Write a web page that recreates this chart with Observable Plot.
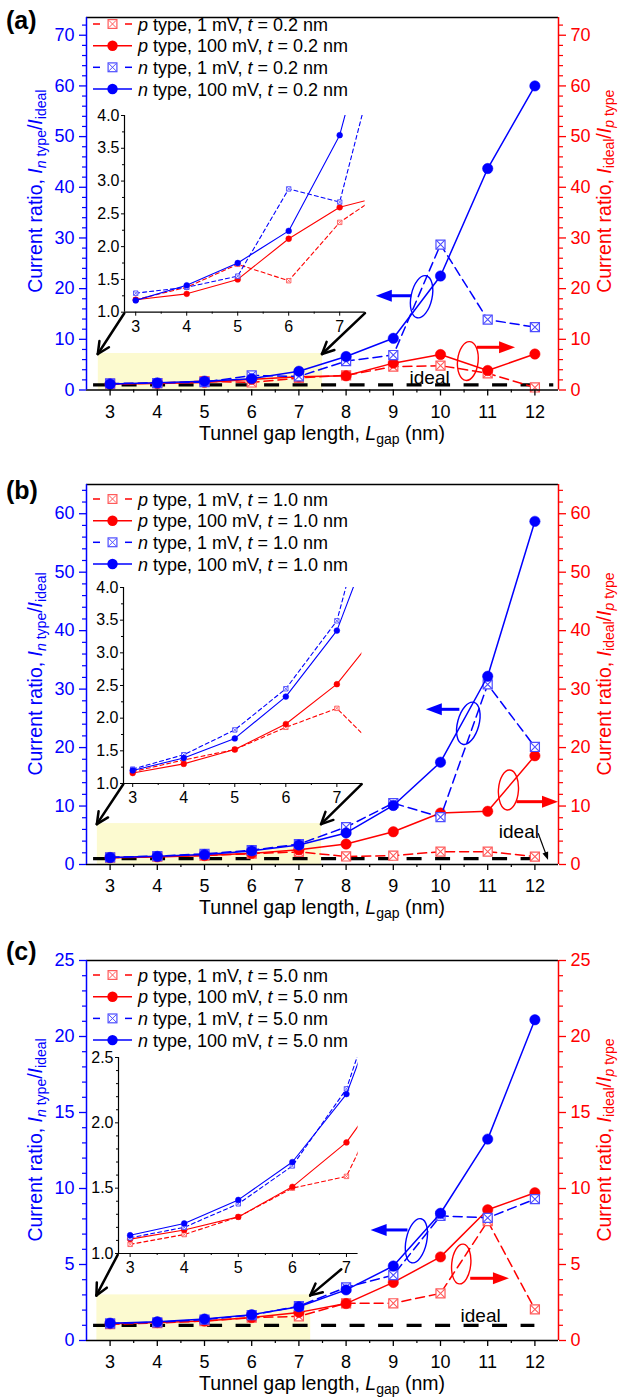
<!DOCTYPE html>
<html><head><meta charset="utf-8">
<script src="https://cdn.jsdelivr.net/npm/d3@7"></script>
<script src="https://cdn.jsdelivr.net/npm/@observablehq/plot@0.6"></script>
<style>
body{margin:0;background:#fff;}
#root{width:618px;}
.panel{position:relative;width:618px;overflow:visible;}
.panel svg{display:block;overflow:visible;}
</style></head><body><div id="root"></div>
<script>
// ---------------- data ----------------
const gapLengths = [3, 4, 5, 6, 7, 8, 9, 10, 11, 12];
const seriesKeys = ["p1", "p100", "n1", "n100"];
const seriesCarrier = ["p", "p", "n", "n"];
const seriesVoltage = ["1 mV", "100 mV", "1 mV", "100 mV"];
const thicknessLabels = ["0.2", "1.0", "5.0"];
const panelLetters = ["(a)", "(b)", "(c)"];

// panel (a): t = 0.2 nm
const a_p1mV   = [1.19, 1.38, 1.73, 1.48, 2.37, 2.9, 4.6, 4.8, 3.3, 0.5];
const a_p100mV = [1.19, 1.28, 1.50, 2.12, 2.60, 2.8, 5.3, 7.0, 3.85, 7.1];
const a_n1mV   = [1.29, 1.38, 1.55, 2.88, 2.68, 5.7, 6.9, 28.7, 13.9, 12.4];
const a_n100mV = [1.18, 1.41, 1.75, 2.24, 3.70, 6.6, 10.2, 22.5, 43.7, 60.0];
// panel (b): t = 1.0 nm
const b_p1mV   = [1.18, 1.36, 1.52, 1.86, 2.15, 1.37, 1.5, 2.2, 2.2, 1.35];
const b_p100mV = [1.16, 1.30, 1.52, 1.91, 2.52, 3.5, 5.6, 8.8, 9.1, 18.6];
const b_n1mV   = [1.22, 1.44, 1.82, 2.45, 3.49, 6.4, 10.5, 8.1, 30.8, 20.1];
const b_n100mV = [1.20, 1.39, 1.69, 2.33, 3.34, 5.4, 10.1, 17.5, 32.2, 58.7];
// panel (c): t = 5.0 nm
const c_p1mV   = [1.07, 1.145, 1.28, 1.50, 1.59, 2.45, 2.45, 3.1, 7.85, 2.05];
const c_p100mV = [1.11, 1.18, 1.28, 1.51, 1.85, 2.43, 3.82, 5.5, 8.6, 9.72];
const c_n1mV   = [1.12, 1.20, 1.38, 1.67, 2.26, 3.5, 4.3, 8.2, 8.07, 9.3];
const c_n100mV = [1.14, 1.23, 1.41, 1.70, 2.22, 3.33, 4.9, 8.37, 13.25, 21.1];

const idealRatio = 1;

// ticks
const xTicks = [3, 4, 5, 6, 7, 8, 9, 10, 11, 12];
const xMinorTicks = [3.5, 4.5, 5.5, 6.5, 7.5, 8.5, 9.5, 10.5, 11.5];
const yTicks_a = [0, 10, 20, 30, 40, 50, 60, 70];
const yTicks_b = [0, 10, 20, 30, 40, 50, 60];
const yTicks_c = [0, 5, 10, 15, 20, 25];
const yMinor_a = d3.range(2, 74, 2).filter(v => v % 10);
const yMinor_b = d3.range(2, 65, 2).filter(v => v % 10);
const yMinor_c = d3.range(1, 25, 1).filter(v => v % 5);
const insetXTicks = [3, 4, 5, 6, 7];
const insetXMinor = [3.5, 4.5, 5.5, 6.5];
const insetYTicks_ab = [1.0, 1.5, 2.0, 2.5, 3.0, 3.5, 4.0];
const insetYMinor_ab = [1.25, 1.75, 2.25, 2.75, 3.25, 3.75];
const insetYTicks_c = [1.0, 1.5, 2.0, 2.5];
const insetYMinor_c = d3.range(1.1, 2.45, 0.1).filter(v => Math.abs(v * 2 - Math.round(v * 2)) > 0.01);

// ---------------- style ----------------
const FONT = "'Liberation Sans', Arial, Helvetica, sans-serif";
const BLUE = "#0000ff", RED = "#ff0000";
const BLUE_LIGHT = "#4d4dff", RED_LIGHT = "#ff5a5a";
const STYLE = {
  p1:   {color: RED,  light: RED_LIGHT,  dashed: true},
  p100: {color: RED,  light: RED,        dashed: false},
  n1:   {color: BLUE, light: BLUE_LIGHT, dashed: true},
  n100: {color: BLUE, light: BLUE,       dashed: false}
};

// ---------------- panels (layout) ----------------
const panels = [
  {
    idx: 0, values: [a_p1mV, a_p100mV, a_n1mV, a_n100mV],
    height: 466, mt: 17, mb: 76.5, yMax: 73.5, yTicks: yTicks_a, yMinor: yMinor_a,
    letterY: 29, legendY: [24, 45.7, 67.3, 89], titleShift: -12,
    inset: {left: 124.3, top: 115, right: 365, bottom: 311.7, xDomain: [2.78, 7.5], yDomain: [1, 4],
            yTicks: insetYTicks_ab, yMinor: insetYMinor_ab},
    zoomBox: {x1: 2.75, x2: 7.5, y1: 0, y2: 7.2},
    rightArrowFrom: null,
    idealEnd: 12.4, idealText: {x: 9.77, y: 2.47}, idealArrow: null,
    ellipses: [{x: 9.61, y: 18.3, rx: 10.5, ry: 21.5, rot: 12, color: BLUE},
               {x: 10.59, y: 5.62, rx: 10.3, ry: 19.5, rot: 6, color: RED}],
    arrows: [{x1: 9.39, x2: 8.64, y: 18.5, color: BLUE},
             {x1: 10.78, x2: 11.59, y: 8.33, color: RED}]
  },
  {
    idx: 1, values: [b_p1mV, b_p100mV, b_n1mV, b_n100mV],
    height: 467, mt: 18, mb: 69, yMax: 65, yTicks: yTicks_b, yMinor: yMinor_b,
    letterY: 33, legendY: [33, 54.7, 76.3, 98], titleShift: 0,
    inset: {left: 123.3, top: 120.7, right: 361.7, bottom: 316.7, xDomain: [2.82, 7.49], yDomain: [1, 4],
            yTicks: insetYTicks_ab, yMinor: insetYMinor_ab},
    zoomBox: {x1: 2.73, x2: 7.48, y1: 0, y2: 7.0},
    rightArrowFrom: null,
    idealEnd: 12.3, idealText: {x: 11.66, y: 5.53}, idealArrow: {x1: 12.08, y1: 5.25, x2: 12.29, y2: 0.68},
    ellipses: [{x: 10.6, y: 24.07, rx: 10.7, ry: 21.7, rot: 15, color: BLUE},
               {x: 11.45, y: 12.66, rx: 10, ry: 20, rot: 4, color: RED}],
    arrows: [{x1: 10.41, x2: 9.70, y: 26.46, color: BLUE},
             {x1: 11.62, x2: 12.5, y: 10.66, color: RED}]
  },
  {
    idx: 2, values: [c_p1mV, c_p100mV, c_n1mV, c_n100mV],
    height: 466, mt: 27, mb: 59, yMax: 25, yTicks: yTicks_c, yMinor: yMinor_c,
    letterY: 27, legendY: [42, 63.7, 85.4, 107.1], titleShift: -10,
    inset: {left: 117.7, top: 124.3, right: 357.3, bottom: 320.3, xDomain: [2.785, 7.215], yDomain: [1, 2.5],
            yTicks: insetYTicks_c, yMinor: insetYMinor_c},
    zoomBox: {x1: 2.72, x2: 7.25, y1: 0, y2: 3.0},
    rightArrowFrom: {dx: -16, dy: 16},
    idealEnd: 12.0, idealText: {x: 10.85, y: 1.64}, idealArrow: null,
    ellipses: [{x: 9.5, y: 6.53, rx: 10.3, ry: 22.5, rot: 12, color: BLUE},
               {x: 10.45, y: 5.0, rx: 9.5, ry: 20, rot: 6, color: RED}],
    arrows: [{x1: 9.31, x2: 8.53, y: 7.24, color: BLUE},
             {x1: 10.64, x2: 11.46, y: 4.06, color: RED}]
  }
];

const X_DOMAIN = [2.5, 12.5];
const ML = 86, MR = 60, W = 618;

function seriesRows(values) {
  return seriesKeys.flatMap((k, si) => gapLengths.map((g, i) => ({gap: g, value: values[si][i], key: k})));
}

function dataMarks(rows, s, clip) {
  return seriesKeys.flatMap(k => {
    const st = STYLE[k];
    const d = rows.filter(r => r.key === k);
    const m = [Plot.line(d, {x: "gap", y: "value", stroke: st.color, strokeWidth: s.lw,
      strokeDasharray: st.dashed ? s.dash : undefined, clip})];
    if (st.dashed) {
      m.push(Plot.dot(d, {x: "gap", y: "value", symbol: "square", r: s.sq, stroke: st.light, fill: "white", strokeWidth: s.sw, clip}));
      m.push(Plot.dot(d, {x: "gap", y: "value", symbol: "times", r: s.tx, stroke: st.light, strokeWidth: s.sw * 0.9, clip}));
    } else {
      m.push(Plot.dot(d, {x: "gap", y: "value", r: s.r, fill: st.color, stroke: st.color, strokeWidth: 0.5, clip}));
    }
    return m;
  });
}

function addRich(parent, parts, {x = 0, y = 0, size = 18, anchor = "start", transform = null, fill = "black", subSize = 13, subShift = 4} = {}) {
  const t = parent.append("text").attr("x", x).attr("y", y)
    .attr("font-size", size).attr("font-family", FONT).attr("fill", fill)
    .attr("text-anchor", anchor).style("white-space", "pre");
  if (transform) t.attr("transform", transform);
  let sub = false;
  for (const p of parts) {
    const ts = t.append("tspan").text(p.t);
    if (p.i) ts.attr("font-style", "italic");
    if (p.sub && !sub) { ts.attr("dy", subShift); sub = true; }
    else if (!p.sub && sub) { ts.attr("dy", -subShift); sub = false; }
    if (p.sub) ts.attr("font-size", subSize);
  }
  return t;
}

function filledArrow(g, x1, y1, x2, y2, color, {w = 3, hl = 16, hw = 6} = {}) {
  const dx = x2 - x1, dy = y2 - y1, L = Math.hypot(dx, dy);
  const ux = dx / L, uy = dy / L, px = -uy, py = ux;
  const bx = x2 - ux * hl, by = y2 - uy * hl;
  g.append("line").attr("x1", x1).attr("y1", y1).attr("x2", bx + ux * 2).attr("y2", by + uy * 2)
    .attr("stroke", color).attr("stroke-width", w);
  g.append("path").attr("d", `M${x2},${y2}L${bx + px * hw},${by + py * hw}L${bx - px * hw},${by - py * hw}Z`)
    .attr("fill", color);
}

function openArrow(g, x1, y1, x2, y2, color, {w = 2.5, hl = 13, spread = 0.45} = {}) {
  const a = Math.atan2(y1 - y2, x1 - x2);
  g.append("line").attr("x1", x1).attr("y1", y1).attr("x2", x2).attr("y2", y2)
    .attr("stroke", color).attr("stroke-width", w).attr("stroke-linecap", "round");
  for (const s of [-spread, spread]) {
    g.append("line").attr("x1", x2).attr("y1", y2)
      .attr("x2", x2 + hl * Math.cos(a + s)).attr("y2", y2 + hl * Math.sin(a + s))
      .attr("stroke", color).attr("stroke-width", w).attr("stroke-linecap", "round");
  }
}

const mainStyle = {lw: 1.5, dash: "9,5", sq: 5.1, tx: 4.0, sw: 1.2, r: 5.2};
const insetStyle = {lw: 1.1, dash: "4,3", sq: 2.5, tx: 2.0, sw: 0.9, r: 2.9};

for (const P of panels) {
  const div = d3.select("#root").append("div").attr("class", "panel").style("height", P.height + "px");
  const rows = seriesRows(P.values);
  const plot = Plot.plot({
    width: W, height: P.height,
    marginLeft: ML, marginRight: MR, marginTop: P.mt, marginBottom: P.mb,
    x: {domain: X_DOMAIN}, y: {domain: [0, P.yMax]},
    style: {fontFamily: FONT, fontSize: "18px", color: "black", background: "transparent", overflow: "visible"},
    marks: [
      Plot.rect([P.zoomBox], {x1: "x1", x2: "x2", y1: "y1", y2: "y2", fill: "#fcfad0"}),
      Plot.ruleY([idealRatio], {x1: 2.65, x2: P.idealEnd, stroke: "black", strokeWidth: 3.2, strokeDasharray: "15,13.5"}),
      ...dataMarks(rows, mainStyle, false),
      Plot.text([P.idealText], {x: "x", y: "y", text: () => "ideal", fontSize: 19, fill: "black"}),
      Plot.axisX({ticks: xTicks, tickSize: 6, tickPadding: 9, tickFormat: d => d, label: null, strokeWidth: 1.3}),
      Plot.axisX({ticks: xMinorTicks, tickSize: 3, tickFormat: () => "", label: null, strokeWidth: 1.2}),
      Plot.axisY({anchor: "left", ticks: P.yTicks, tickSize: 7, tickPadding: 5, tickFormat: d => d, color: BLUE, label: null, strokeWidth: 1.3}),
      Plot.axisY({anchor: "left", ticks: P.yMinor, tickSize: 4, tickFormat: () => "", color: BLUE, label: null, strokeWidth: 1.2}),
      Plot.axisY({anchor: "right", ticks: P.yTicks, tickSize: 7, tickPadding: 5, tickFormat: d => d, color: RED, label: null, strokeWidth: 1.3}),
      Plot.axisY({anchor: "right", ticks: P.yMinor, tickSize: 4, tickFormat: () => "", color: RED, label: null, strokeWidth: 1.2}),
      Plot.ruleY([P.yMax], {stroke: "black", strokeWidth: 1.5}),
      Plot.ruleY([0], {stroke: "black", strokeWidth: 1.5}),
      Plot.ruleX([X_DOMAIN[0]], {stroke: BLUE, strokeWidth: 1.5}),
      Plot.ruleX([X_DOMAIN[1]], {stroke: RED, strokeWidth: 1.5})
    ]
  });
  div.node().appendChild(plot);

  const X = d3.scaleLinear(X_DOMAIN, [ML, W - MR]);
  const Y = d3.scaleLinear([0, P.yMax], [P.height - P.mb, P.mt]);
  const svg = d3.select(plot);
  const g = svg.append("g").attr("text-anchor", "start");

  // inset
  const I = P.inset;
  const iml = 40, imr = 8, imt = 8, imb = 30;
  const iw = I.right - I.left, ih = I.bottom - I.top;
  const inset = Plot.plot({
    width: iw + iml + imr, height: ih + imt + imb,
    marginLeft: iml, marginRight: imr, marginTop: imt, marginBottom: imb,
    x: {domain: I.xDomain}, y: {domain: I.yDomain},
    style: {fontFamily: FONT, fontSize: "16px", color: "black", background: "transparent", overflow: "visible"},
    marks: [
      ...dataMarks(rows, insetStyle, true),
      Plot.axisX({ticks: insetXTicks, tickSize: 4, tickPadding: 4, tickFormat: d => d, label: null}),
      Plot.axisX({ticks: insetXMinor, tickSize: 2, tickFormat: () => "", label: null}),
      Plot.axisY({anchor: "left", ticks: I.yTicks, tickSize: 3, tickPadding: 2, tickFormat: d3.format(".1f"), label: null}),
      Plot.axisY({anchor: "left", ticks: I.yMinor, tickSize: 2, tickFormat: () => "", label: null}),
      Plot.ruleX([I.xDomain[0]], {stroke: "black", strokeWidth: 1.2}),
      Plot.ruleY([I.yDomain[0]], {stroke: "black", strokeWidth: 1.2})
    ]
  });
  d3.select(inset).style("position", "absolute").style("left", (I.left - iml) + "px").style("top", (I.top - imt) + "px");
  div.node().appendChild(inset);

  // zoom arrows from inset corners to highlighted region
  const zb = P.zoomBox;
  openArrow(g, I.left, I.bottom + 1.5, X(zb.x1), Y(zb.y2) + 1, "black");
  const rf = P.rightArrowFrom ? {x: I.right + P.rightArrowFrom.dx, y: I.bottom + P.rightArrowFrom.dy} : {x: I.right, y: I.bottom + 1.5};
  openArrow(g, rf.x, rf.y, X(zb.x2), Y(zb.y2) + 1, "black");

  // ellipses and axis-pointing arrows
  for (const e of P.ellipses) {
    g.append("ellipse").attr("cx", 0).attr("cy", 0).attr("rx", e.rx).attr("ry", e.ry)
      .attr("transform", `translate(${X(e.x)},${Y(e.y)}) rotate(${e.rot})`)
      .attr("fill", "none").attr("stroke", e.color).attr("stroke-width", 1.4);
  }
  for (const a of P.arrows) filledArrow(g, X(a.x1), Y(a.y), X(a.x2), Y(a.y), a.color);
  if (P.idealArrow) {
    const ia = P.idealArrow;
    filledArrow(g, X(ia.x1), Y(ia.y1), X(ia.x2), Y(ia.y2), "black", {w: 1.2, hl: 8, hw: 3});
  }

  // legend
  P.legendY.forEach((ly, si) => {
    const st = STYLE[seriesKeys[si]];
    const lx0 = 93, lx1 = 132, mx = 112.5;
    if (st.dashed) {
      g.append("line").attr("x1", lx0).attr("x2", lx0 + 7).attr("y1", ly).attr("y2", ly).attr("stroke", st.color).attr("stroke-width", 1.5);
      g.append("line").attr("x1", lx1 - 7).attr("x2", lx1).attr("y1", ly).attr("y2", ly).attr("stroke", st.color).attr("stroke-width", 1.5);
      g.append("rect").attr("x", mx - 4.4).attr("y", ly - 4.4).attr("width", 8.8).attr("height", 8.8)
        .attr("fill", "white").attr("stroke", st.light).attr("stroke-width", 1.2);
      g.append("path").attr("d", `M${mx - 3.6},${ly - 3.6}L${mx + 3.6},${ly + 3.6}M${mx - 3.6},${ly + 3.6}L${mx + 3.6},${ly - 3.6}`)
        .attr("stroke", st.light).attr("stroke-width", 1);
    } else {
      g.append("line").attr("x1", lx0).attr("x2", lx1).attr("y1", ly).attr("y2", ly).attr("stroke", st.color).attr("stroke-width", 1.5);
      g.append("circle").attr("cx", mx).attr("cy", ly).attr("r", 5.2).attr("fill", st.color);
    }
    addRich(g, [
      {t: seriesCarrier[si], i: true},
      {t: ` type, ${seriesVoltage[si]}, `},
      {t: "t", i: true},
      {t: ` = ${thicknessLabels[P.idx]} nm`}
    ], {x: 138, y: ly + 6.5, size: 18});
  });

  // axis titles
  const axisY0 = P.height - P.mb;
  const cy = (P.mt + axisY0) / 2 + P.titleShift;
  addRich(g, [{t: "Tunnel gap length, "}, {t: "L", i: true}, {t: "gap", sub: true}, {t: " (nm)"}],
    {x: (ML + W - MR) / 2, y: axisY0 + 50, anchor: "middle", size: 19.5, subSize: 14});
  addRich(g, [{t: "Current ratio, "}, {t: "I", i: true}, {t: "n", i: true, sub: true}, {t: " type", sub: true},
              {t: "/"}, {t: "I", i: true}, {t: "ideal", sub: true}],
    {anchor: "middle", fill: BLUE, size: 19.5, subSize: 14, transform: `translate(42,${cy}) rotate(-90)`});
  addRich(g, [{t: "Current ratio, "}, {t: "I", i: true}, {t: "ideal", sub: true}, {t: "/"},
              {t: "I", i: true}, {t: "p", i: true, sub: true}, {t: " type", sub: true}],
    {anchor: "middle", fill: RED, size: 19.5, subSize: 14, transform: `translate(610.5,${cy}) rotate(-90)`, subShift: 3.5});

  // panel letter
  g.append("text").attr("x", 6).attr("y", P.letterY).attr("font-family", FONT).attr("font-weight", "bold")
    .attr("text-anchor", "start").attr("font-size", 25).attr("fill", "black").text(panelLetters[P.idx]);
}
</script>
</body></html>
